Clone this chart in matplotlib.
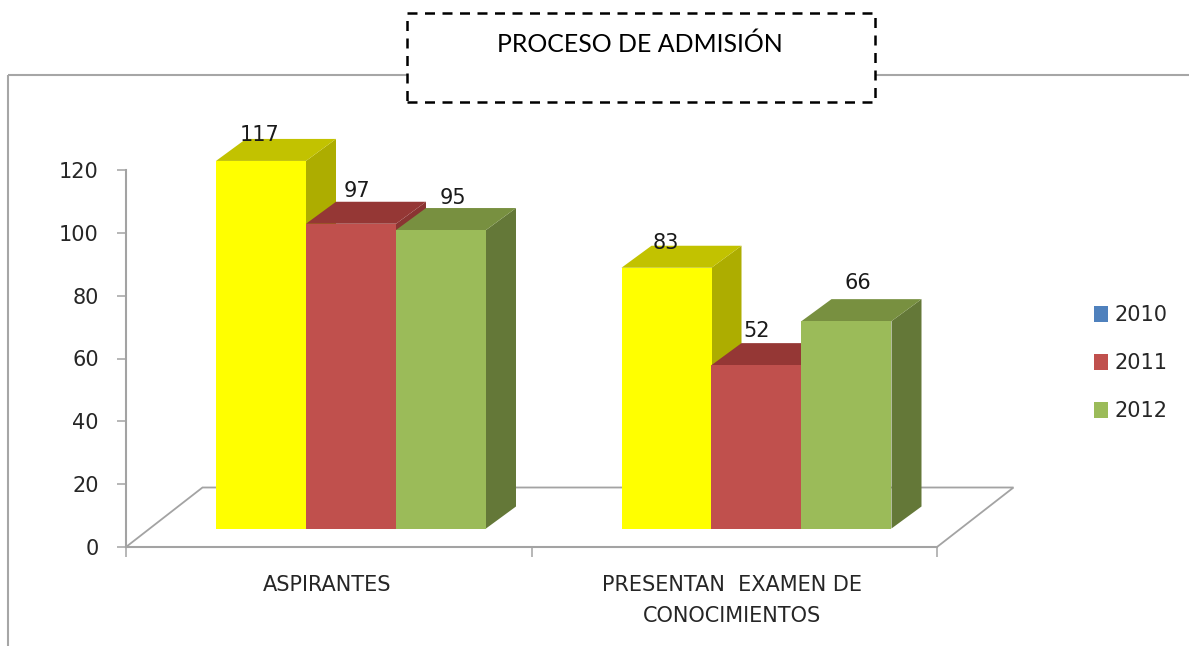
import matplotlib
matplotlib.use("Agg")
import matplotlib.pyplot as plt
from matplotlib.lines import Line2D
from matplotlib.patches import Patch, Polygon, Rectangle

categories = ["ASPIRANTES", "PRESENTAN  EXAMEN DE\nCONOCIMIENTOS"]
series_names = ["2010", "2011", "2012"]
values_2010 = [117, 83]
values_2011 = [97, 52]
values_2012 = [95, 66]
y_ticks = [0, 20, 40, 60, 80, 100, 120]
title_text = "PROCESO DE ADMISIÓN"

W, H = 1189, 646
GRAY = "#a3a3a3"
TXT = "#262626"
fig = plt.figure(figsize=(W / 100, H / 100), dpi=100, facecolor="white")


def px_box(x0, y0, x1, y1):
    return [x0 / W, 1 - y1 / H, (x1 - x0) / W, (y1 - y0) / H]


ax = fig.add_axes(px_box(126, 170, 937, 547), facecolor="none")
ax.set_xlim(0, 2)
ax.set_ylim(0, 120)
cat_px = (937 - 126) / 2
val_px = (547 - 170) / 120

# 3-D look, expressed in axis units
bar_w = 90 / cat_px
depth_x = 30 / cat_px
depth_y = 22 / val_px
base = 18.5 / val_px
centre = 225 / cat_px
floor_x = 76.5 / cat_px
floor_y = 59.5 / val_px

# floor
ax.add_patch(Polygon([(0, 0), (floor_x, floor_y), (2 + floor_x, floor_y), (2, 0)],
                     closed=True, facecolor="white", edgecolor=GRAY, lw=1.3,
                     clip_on=False, zorder=1))

styles = [
    ("#ffff00", "#c2c200", "#adad00"),
    ("#c0504d", "#953735", "#8a3432"),
    ("#9bbb59", "#789040", "#647838"),
]
label_dx = [[-1, 6, 12], [-1, 0, 11]]
label_dy = [[26, 33, 32], [25, 34, 38]]
all_series = [values_2010, values_2011, values_2012]
z = 2
for s, vals in enumerate(all_series):
    front, top, side = styles[s]
    for c, v in enumerate(vals):
        x0 = c + centre + (s - 1.5) * bar_w
        x1 = x0 + bar_w
        y0 = base
        y1 = base + v
        ax.add_patch(Polygon([(x1, y0), (x1 + depth_x, y0 + depth_y), (x1 + depth_x, y1 + depth_y), (x1, y1)],
                             closed=True, facecolor=side, edgecolor="none", clip_on=False, zorder=z))
        ax.add_patch(Polygon([(x0, y1), (x0 + depth_x, y1 + depth_y), (x1 + depth_x, y1 + depth_y), (x1, y1)],
                             closed=True, facecolor=top, edgecolor="none", clip_on=False, zorder=z))
        ax.bar(x0, v, width=bar_w, bottom=y0, align="edge", color=front, linewidth=0,
               clip_on=False, zorder=z + 0.5)
        ax.annotate(str(v), (x0 + bar_w / 2, y1), xytext=(label_dx[c][s] * 0.72, label_dy[c][s] * 0.72),
                    textcoords="offset points", ha="center", va="center", fontsize=15,
                    color="#1a1a1a", annotation_clip=False, zorder=20)
    z += 1

# axes
for side in ("top", "right"):
    ax.spines[side].set_visible(False)
for side in ("left", "bottom"):
    ax.spines[side].set_color(GRAY)
    ax.spines[side].set_linewidth(1.5)
    ax.spines[side].set_zorder(1.5)
ax.set_yticks(y_ticks)
ax.tick_params(axis="y", length=6.5, width=1.1, color=GRAY, labelsize=15, labelcolor=TXT, pad=13)
ax.set_xticks([0, 1, 2])
ax.set_xticklabels([])
ax.tick_params(axis="x", which="major", length=7, width=1.1, color=GRAY)
ax.set_xticks([0.497, 1.495], minor=True)
ax.set_xticklabels(categories, minor=True, fontsize=15, color=TXT, linespacing=1.68)
ax.tick_params(axis="x", which="minor", length=0, pad=20)

# legend
handles = [Patch(facecolor=c) for c in ("#4f81bd", "#c0504d", "#9bbb59")]
fig.legend(handles, series_names, loc="upper left", bbox_to_anchor=(1094 / W, 1 - 305 / H),
           bbox_transform=fig.transFigure, frameon=False, fontsize=15, labelcolor=TXT,
           handlelength=0.67, handleheight=0.77, handletextpad=0.33, labelspacing=1.35,
           borderpad=0, borderaxespad=0)

# outer frame
for xs, ys in (([8, 8], [646, 75]), ([8, 1189], [75, 75])):
    fig.add_artist(Line2D([x / W for x in xs], [1 - y / H for y in ys], color="#a6a6a6", lw=1.5,
                          zorder=0, solid_capstyle="butt"))

# title box
fig.add_artist(Rectangle((407 / W, 1 - 102 / H), 468 / W, 89 / H, transform=fig.transFigure,
                         facecolor="white", edgecolor="black", lw=1.8, linestyle=(0, (4, 3)), zorder=5))
fig.text(640 / W, 1 - 44 / H, title_text, ha="center", va="center", fontsize=17.9,
         family=["Lato", "DejaVu Sans"], color="black", zorder=6)

fig.savefig("out.png", dpi=100)
